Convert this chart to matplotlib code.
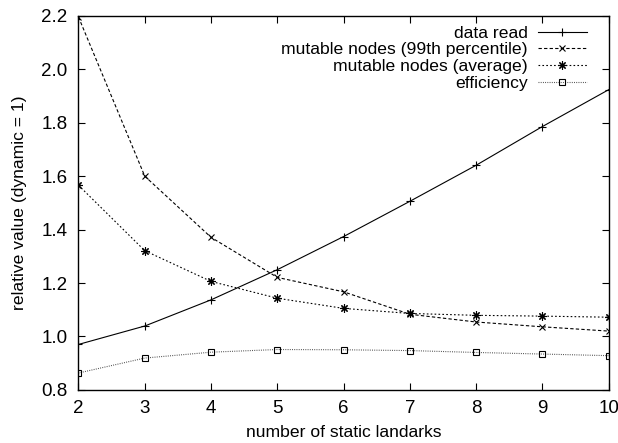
import matplotlib
matplotlib.use("Agg")
import matplotlib.pyplot as plt

plt.rcParams['font.family'] = ['Liberation Sans', 'DejaVu Sans']

x = [2, 3, 4, 5, 6, 7, 8, 9, 10]
data_read = [0.970, 1.039, 1.137, 1.250, 1.374, 1.506, 1.641, 1.786, 1.924]
mut_99 = [2.196, 1.600, 1.371, 1.221, 1.167, 1.083, 1.054, 1.036, 1.020]
mut_avg = [1.566, 1.321, 1.206, 1.143, 1.105, 1.086, 1.079, 1.076, 1.072]
efficiency = [0.863, 0.919, 0.941, 0.951, 0.950, 0.947, 0.940, 0.934, 0.928]

labels = ["data read", "mutable nodes (99th percentile)",
          "mutable nodes (average)", "efficiency"]
xticks = [2, 3, 4, 5, 6, 7, 8, 9, 10]
yticks = [0.8, 1.0, 1.2, 1.4, 1.6, 1.8, 2.0, 2.2]

fig = plt.figure(figsize=(6.18, 4.43), dpi=100)
ax = fig.add_axes([0.127, 0.120, 0.858, 0.844])

lw = 0.8
ax.plot(x, data_read, color='black', lw=lw, ls='-', marker='+', ms=6, mew=0.8, label=labels[0])
ax.plot(x, mut_99, color='black', lw=lw, ls=(0, (3, 2)), marker='x', ms=5, mew=0.8, label=labels[1])
ax.plot(x, mut_avg, color='black', lw=lw, ls=(0, (1.5, 2)), marker=(8, 2, 0), ms=6, mew=0.8, label=labels[2])
ax.plot(x, efficiency, color='#444444', lw=lw, ls=(0, (0.8, 1.2)), marker='s', ms=5, mew=0.8,
        mfc='none', mec='black', label=labels[3])

ax.set_xlim(2, 10)
ax.set_ylim(0.8, 2.2)
ax.set_xticks(xticks)
ax.set_yticks(yticks)
ax.set_yticklabels([f"{v:.1f}" for v in yticks])
ax.tick_params(direction='in', top=True, right=True, length=5, width=0.8, labelsize=13.5)
ax.tick_params(axis='x', pad=7)
ax.tick_params(axis='y', pad=8)
for s in ax.spines.values():
    s.set_linewidth(1.0)

ax.set_xlabel("number of static landarks", fontsize=12.6, labelpad=6)
ax.set_ylabel("relative value (dynamic = 1)", fontsize=12.6, labelpad=10)

leg = ax.legend(loc='upper right', bbox_to_anchor=(0.972, 0.993), frameon=False,
                markerfirst=False, fontsize=12.6,
                handlelength=2.8, handletextpad=0.6, labelspacing=0.08,
                borderaxespad=0.0)

fig.savefig("out.png", dpi=100)
